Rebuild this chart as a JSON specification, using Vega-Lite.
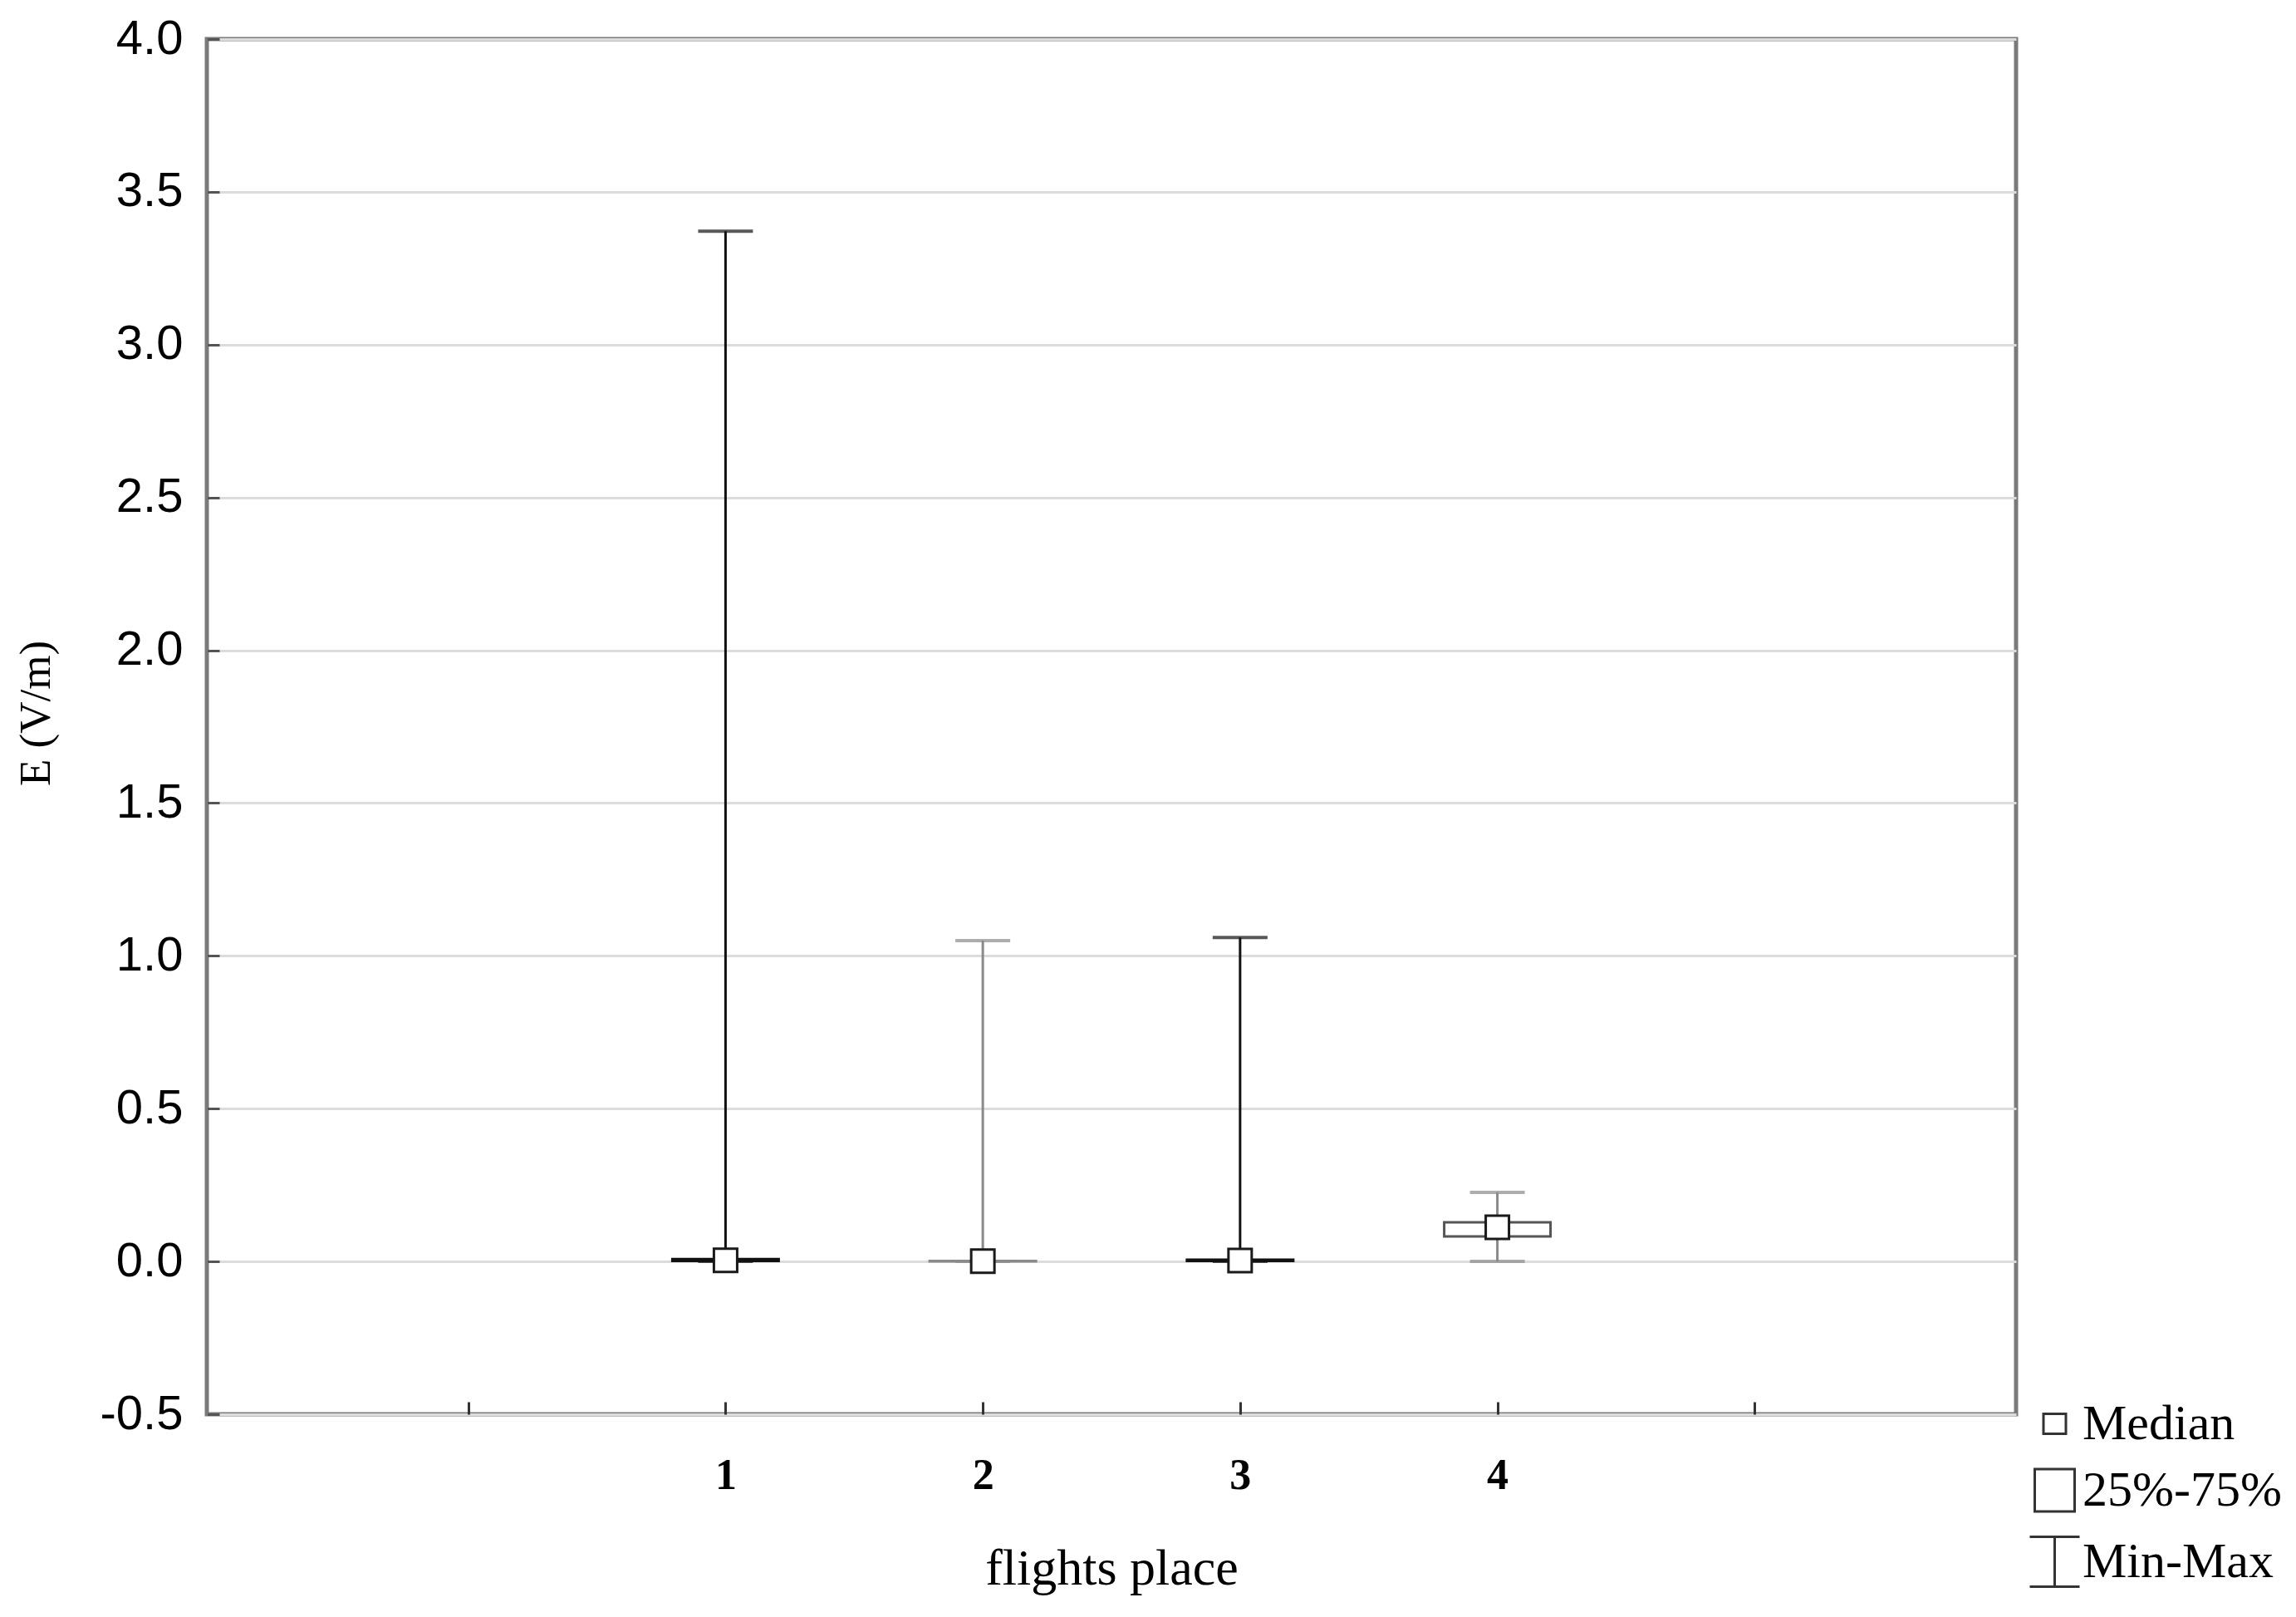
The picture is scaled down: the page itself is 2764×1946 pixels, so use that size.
{
  "$schema": "https://vega.github.io/schema/vega-lite/v6.json",
  "width": 2178,
  "height": 1655,
  "autosize": {"type": "none"},
  "padding": {"left": 249, "top": 47, "right": 337, "bottom": 244},
  "background": "white",
  "datasets": {
    "stats": [
      {"place": 1, "min": 0, "q1": 0.002, "median": 0.004, "q3": 0.008, "max": 3.371},
      {"place": 2, "min": 0, "q1": 0.0, "median": 0.001, "q3": 0.002, "max": 1.05},
      {"place": 3, "min": 0, "q1": 0.002, "median": 0.003, "q3": 0.006, "max": 1.06},
      {"place": 4, "min": 0, "q1": 0.082, "median": 0.112, "q3": 0.128, "max": 0.226}
    ],
    "legendItems": [
      {"item": "Median"},
      {"item": "25%-75%"},
      {"item": "Min-Max"}
    ]
  },
  "config": {
    "view": {"stroke": "#7a7a7a", "strokeWidth": 5},
    "axisY": {
      "domain": false,
      "labelFont": "Liberation Sans",
      "labelFontSize": 58,
      "labelColor": "black",
      "labelPadding": 44,
      "tickSize": -15,
      "tickColor": "#555555",
      "tickWidth": 3,
      "grid": true,
      "gridColor": "#dcdcdc",
      "gridWidth": 3,
      "titleFont": "Liberation Serif",
      "titleFontSize": 53,
      "titleFontWeight": "normal",
      "titleColor": "black"
    },
    "axisX": {
      "domain": false,
      "grid": false,
      "labelFont": "Liberation Serif",
      "labelFontSize": 52,
      "labelFontWeight": "bold",
      "labelColor": "black",
      "labelPadding": 63,
      "tickSize": -15,
      "tickColor": "#333333",
      "tickWidth": 3,
      "titleFont": "Liberation Serif",
      "titleFontSize": 62,
      "titleFontWeight": "normal",
      "titleColor": "black"
    }
  },
  "encoding": {
    "x": {
      "field": "place",
      "type": "quantitative",
      "scale": {"domain": [-1, 6], "nice": false, "zero": false},
      "axis": {
        "values": [0, 1, 2, 3, 4, 5],
        "labelExpr": "datum.value >= 1 && datum.value <= 4 ? format(datum.value, 'd') : ''",
        "title": "flights place",
        "titleBaseline": "alphabetic",
        "titleY": 204
      }
    }
  },
  "layer": [
    {
      "data": {"name": "stats"},
      "mark": {"type": "rule", "strokeWidth": 3},
      "encoding": {
        "y": {
          "field": "min",
          "type": "quantitative",
          "title": "E (V/m)",
          "scale": {"domain": [-0.5, 4], "nice": false, "zero": false},
          "axis": {
            "values": [-0.5, 0, 0.5, 1, 1.5, 2, 2.5, 3, 3.5, 4],
            "format": ".1f",
            "labelExpr": "replace(datum.label, '−', '-')",
            "titleBaseline": "alphabetic",
            "titleAlign": "center",
            "titleAngle": -90,
            "titleX": -190,
            "titleY": 811
          }
        },
        "y2": {"field": "max"},
        "color": {
          "field": "place",
          "type": "nominal",
          "scale": {"domain": [1, 2, 3, 4], "range": ["#111111", "#8a8a8a", "#111111", "#8a8a8a"]},
          "legend": null
        }
      }
    },
    {
      "data": {"name": "stats"},
      "mark": {"type": "tick", "orient": "horizontal", "size": 66, "thickness": 4},
      "encoding": {
        "y": {"field": "max", "type": "quantitative", "title": "E (V/m)", "scale": {"domain": [-0.5, 4], "nice": false, "zero": false}},
        "color": {"field": "place", "type": "nominal", "legend": null}
      }
    },
    {
      "data": {"name": "stats"},
      "mark": {"type": "tick", "orient": "horizontal", "size": 66, "thickness": 4},
      "encoding": {
        "y": {"field": "min", "type": "quantitative", "title": "E (V/m)", "scale": {"domain": [-0.5, 4], "nice": false, "zero": false}},
        "color": {"field": "place", "type": "nominal", "legend": null}
      }
    },
    {
      "data": {"name": "stats"},
      "mark": {"type": "bar", "size": 128, "fill": "white", "strokeWidth": 3},
      "encoding": {
        "y": {"field": "q1", "type": "quantitative", "title": "E (V/m)", "scale": {"domain": [-0.5, 4], "nice": false, "zero": false}},
        "y2": {"field": "q3"},
        "stroke": {
          "field": "place",
          "type": "nominal",
          "scale": {"domain": [1, 2, 3, 4], "range": ["#111111", "#8a8a8a", "#111111", "#555555"]},
          "legend": null
        }
      }
    },
    {
      "data": {"name": "stats"},
      "mark": {"type": "point", "shape": "square", "size": 784, "filled": true, "fill": "white", "stroke": "#1a1a1a", "strokeWidth": 3, "opacity": 1},
      "encoding": {
        "y": {"field": "median", "type": "quantitative", "title": "E (V/m)", "scale": {"domain": [-0.5, 4], "nice": false, "zero": false}}
      }
    },
    {
      "data": {"name": "legendItems"},
      "mark": {"type": "point", "filled": false, "color": "#333333", "opacity": 0},
      "encoding": {
        "x": {"value": 0},
        "y": {"value": 0},
        "shape": {
          "field": "item",
          "type": "nominal",
          "scale": {
            "domain": ["Median", "25%-75%", "Min-Max"],
            "range": ["M-0.45,-0.4H0.45V0.4H-0.45Z", "M-0.8,-0.85H0.8V0.85H-0.8Z", "M-1,-1H1M0,-1V1M-1,1H1"]
          },
          "legend": {
            "title": null,
            "orient": "none",
            "legendX": 2193,
            "legendY": 1635,
            "padding": 0,
            "symbolSize": 3600,
            "symbolStrokeWidth": 3,
            "symbolStrokeColor": "#333333",
            "symbolFillColor": "white",
            "symbolOpacity": 1,
            "labelFont": "Liberation Serif",
            "labelFontSize": 60,
            "labelColor": "black",
            "labelOffset": 2,
            "rowPadding": 18,
            "labelLimit": 400
          }
        }
      }
    }
  ]
}
